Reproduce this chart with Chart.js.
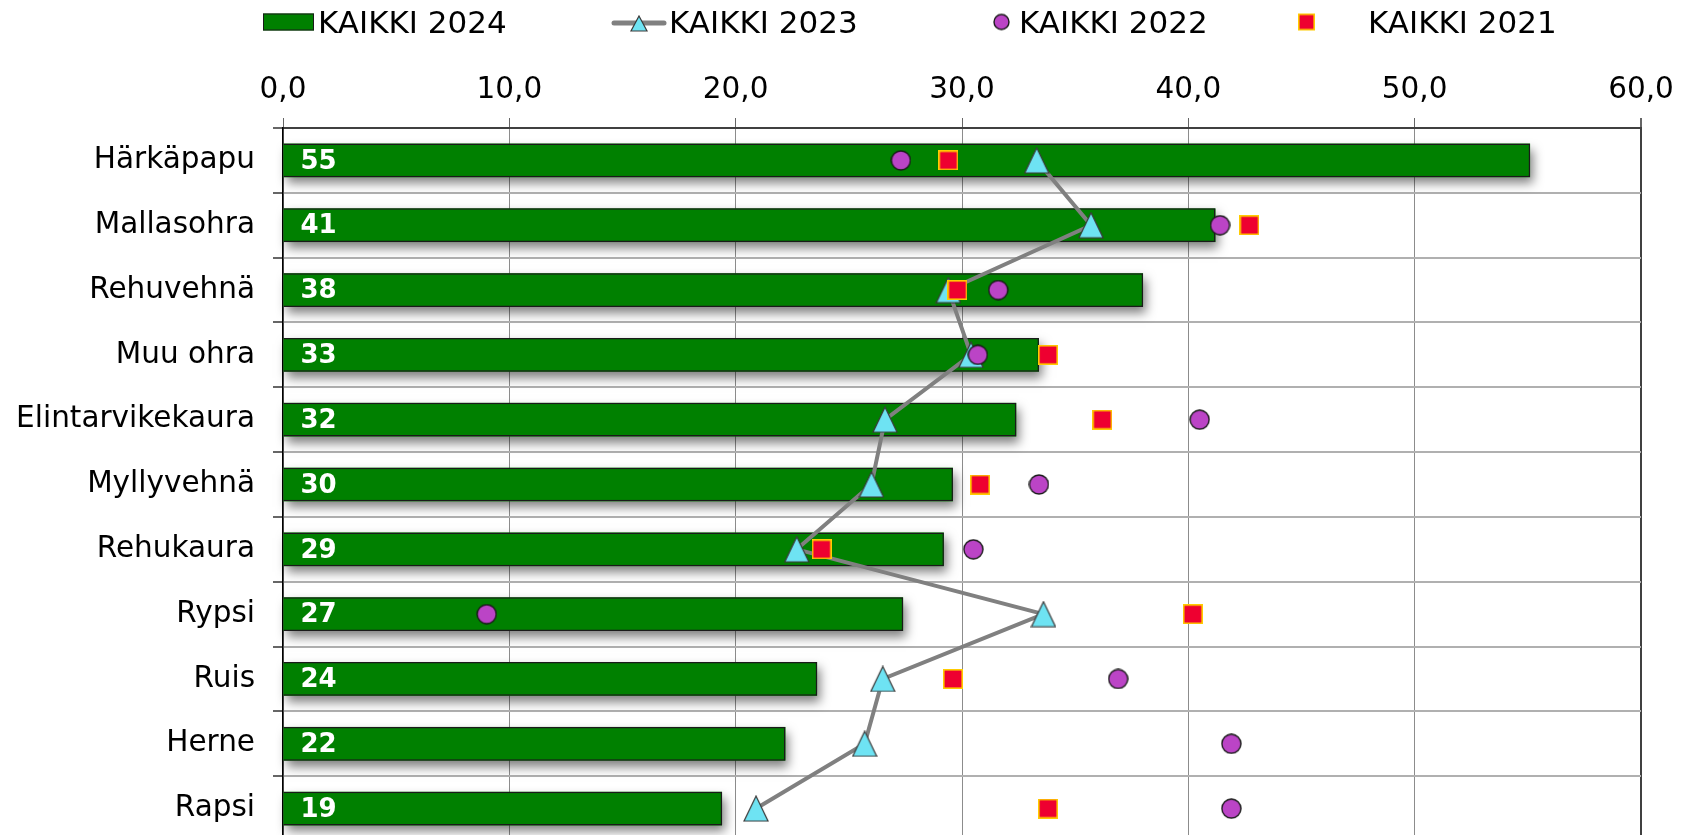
<!DOCTYPE html>
<html lang="fi">
<head>
<meta charset="utf-8">
<title>KAIKKI 2021–2024</title>
<script src="https://cdn.jsdelivr.net/npm/chart.js@4.4.1/dist/chart.umd.min.js"></script>
<style>
  html, body { margin: 0; padding: 0; background: #fff; overflow: hidden; }
  #wrap { position: relative; width: 1686px; height: 835px; overflow: hidden; }
  #chart { position: absolute; left: 0; top: 0; }
  #legend { position: absolute; left: 0; top: 0; width: 1686px; height: 44px;
            font-family: "DejaVu Sans", sans-serif; font-size: 31px; color: #000; }
  #legend .sw, #legend .tx { position: absolute; top: 22px; transform: translateY(-50%); }
  #legend .tx { line-height: 1; white-space: nowrap; }
  #legend .bar { width: 49px; height: 15px; background: #008000; border: 1px solid #1a1a1a; }
</style>
</head>
<body>
<div id="wrap">
  <!-- the plot runs past the bottom edge, so the canvas is taller than the frame -->
  <canvas id="chart" width="1686" height="857"></canvas>
  <div id="legend"></div>
</div>
<script>
// ——— data ———
const categories = ["Härkäpapu", "Mallasohra", "Rehuvehnä", "Muu ohra", "Elintarvikekaura",
  "Myllyvehnä", "Rehukaura", "Rypsi", "Ruis", "Herne", "Rapsi"];
const seriesNames = ["KAIKKI 2024", "KAIKKI 2023", "KAIKKI 2022", "KAIKKI 2021"];
const kaikki2024 = [55.1, 41.2, 38.0, 33.4, 32.4, 29.6, 29.2, 27.4, 23.6, 22.2, 19.4];
const kaikki2023 = [33.3, 35.7, 29.4, 30.4, 26.6, 26.0, 22.7, 33.6, 26.5, 25.7, 20.9];
const kaikki2022 = [27.3, 41.4, 31.6, 30.7, 40.5, 33.4, 30.5, 9.0, 36.9, 41.9, 41.9];
const kaikki2021 = [29.4, 42.7, 29.8, 33.8, 36.2, 30.8, 23.8, 40.2, 29.6, null, 33.8];
const xTicks = [0, 10, 20, 30, 40, 50, 60];

const FONT = '"DejaVu Sans", sans-serif';

// marker images, shared by the chart and the legend
function marker(w, h, draw) {
  const c = document.createElement("canvas");
  c.width = w; c.height = h;
  draw(c.getContext("2d"), w, h);
  return c;
}
function makeTriangle(w, h) {
  return marker(w, h, (g) => {
    g.beginPath();
    g.moveTo(w / 2, 1); g.lineTo(w - 1, h - 1); g.lineTo(1, h - 1); g.closePath();
    g.fillStyle = "#6ee3f3"; g.fill();
    g.lineWidth = 1.2; g.strokeStyle = "#3a3a3a"; g.stroke();
  });
}
function makeCircle(d) {
  return marker(d, d, (g) => {
    g.beginPath();
    g.arc(d / 2, d / 2, d / 2 - 1, 0, Math.PI * 2);
    g.fillStyle = "#bb44c6"; g.fill();
    g.lineWidth = 1.4; g.strokeStyle = "#1a1a1a"; g.stroke();
  });
}
function makeSquare(s) {
  return marker(s, s, (g) => {
    g.fillStyle = "#ffcc00"; g.fillRect(0, 0, s, s);
    g.fillStyle = "#ee0030"; g.fillRect(1.6, 1.6, s - 3.2, s - 3.2);
  });
}
const triangle = makeTriangle(26, 27);
const circle = makeCircle(21);
const square = makeSquare(20);

const lineSwatch = marker(56, 20, (g, w, h) => {
  const tri = makeTriangle(18, 17);
  g.strokeStyle = "#808080"; g.lineWidth = 5; g.lineCap = "round";
  g.beginPath(); g.moveTo(3, h / 2 + 1); g.lineTo(w - 3, h / 2 + 1); g.stroke();
  g.drawImage(tri, (w - tri.width) / 2, h - tri.height);
});

// ——— legend ———
const barSwatch = document.createElement("div");
barSwatch.className = "bar";
const legendItems = [
  { swatch: barSwatch, left: 263, text: 318 },
  { swatch: lineSwatch, left: 611, text: 669 },
  { swatch: makeCircle(17), left: 993, text: 1019 },
  { swatch: makeSquare(17), left: 1298, text: 1368 }
];
const legendBox = document.getElementById("legend");
legendItems.forEach((item, i) => {
  item.swatch.classList.add("sw");
  item.swatch.style.left = item.left + "px";
  legendBox.appendChild(item.swatch);
  const t = document.createElement("span");
  t.className = "tx";
  t.style.left = item.text + "px";
  t.textContent = seriesNames[i];
  legendBox.appendChild(t);
});

// bar drop shadow + white value labels
const barExtras = {
  id: "barExtras",
  beforeDatasetDraw(chart, args) {
    if (args.index !== 0) return;
    const g = chart.ctx;
    g.save();
    g.shadowColor = "rgba(0,0,0,0.5)";
    g.shadowBlur = 10;
    g.shadowOffsetX = 3;
    g.shadowOffsetY = 6;
    g.fillStyle = "#008000";
    args.meta.data.forEach(bar => {
      const { x, y, base, height } = bar.getProps(["x", "y", "base", "height"], true);
      g.fillRect(base, y - height / 2, x - base, height);
    });
    g.restore();
  },
  afterDatasetDraw(chart, args) {
    if (args.index !== 0) return;
    const g = chart.ctx;
    g.save();
    g.font = `bold 26px ${FONT}`;
    g.fillStyle = "#fff";
    g.textAlign = "left";
    g.textBaseline = "middle";
    args.meta.data.forEach((bar, i) => {
      g.fillText(kaikki2024[i].toFixed(0), bar.base + 17, bar.y + 1.5);
    });
    g.restore();
  }
};

new Chart(document.getElementById("chart"), {
  data: {
    labels: categories,
    datasets: [
      {
        type: "bar", label: seriesNames[0], data: kaikki2024,
        backgroundColor: "#008000", borderColor: "#1a1a1a", borderWidth: 1.5,
        barPercentage: 0.52, categoryPercentage: 1, order: 3
      },
      {
        type: "line", label: seriesNames[1], data: kaikki2023,
        borderColor: "#808080", borderWidth: 4, pointStyle: triangle,
        pointRadius: 12, order: 2
      },
      {
        type: "line", label: seriesNames[2], data: kaikki2022, showLine: false,
        pointStyle: circle, pointRadius: 10, order: 1
      },
      {
        type: "line", label: seriesNames[3], data: kaikki2021, showLine: false,
        pointStyle: square, pointRadius: 10, order: 0
      }
    ]
  },
  options: {
    indexAxis: "y",
    responsive: false,
    animation: false,
    events: [],
    layout: { padding: { top: 58, right: 45, bottom: 1, left: 0 } },
    plugins: { legend: { display: false }, tooltip: { enabled: false } },
    scales: {
      x: {
        type: "linear", position: "top", min: 0, max: 60,
        afterBuildTicks: s => { s.ticks = xTicks.map(v => ({ value: v })); },
        afterFit: s => { s.height = 70; },
        ticks: {
          callback: v => v.toFixed(1).replace(".", ","),
          font: { family: FONT, size: 29.5 }, color: "#000", padding: 10
        },
        grid: {
          color: c => (c.tick && c.tick.value === 60 ? "#404040" : "#8c8c8c"),
          lineWidth: c => (c.tick && c.tick.value === 60 ? 2 : 1),
          tickLength: 10, tickColor: "#666"
        },
        border: { color: "#404040", width: 2 }
      },
      y: {
        afterFit: s => { s.width = 283; s.paddingTop = 0; s.paddingBottom = 0; },
        ticks: { font: { family: FONT, size: 29.5 }, color: "#000", padding: 18 },
        grid: { offset: true, color: "#b0b0b0", lineWidth: 2, tickLength: 10, tickColor: "#666" },
        border: { color: "#000", width: 1.5 }
      }
    }
  },
  plugins: [barExtras]
});
</script>
</body>
</html>
